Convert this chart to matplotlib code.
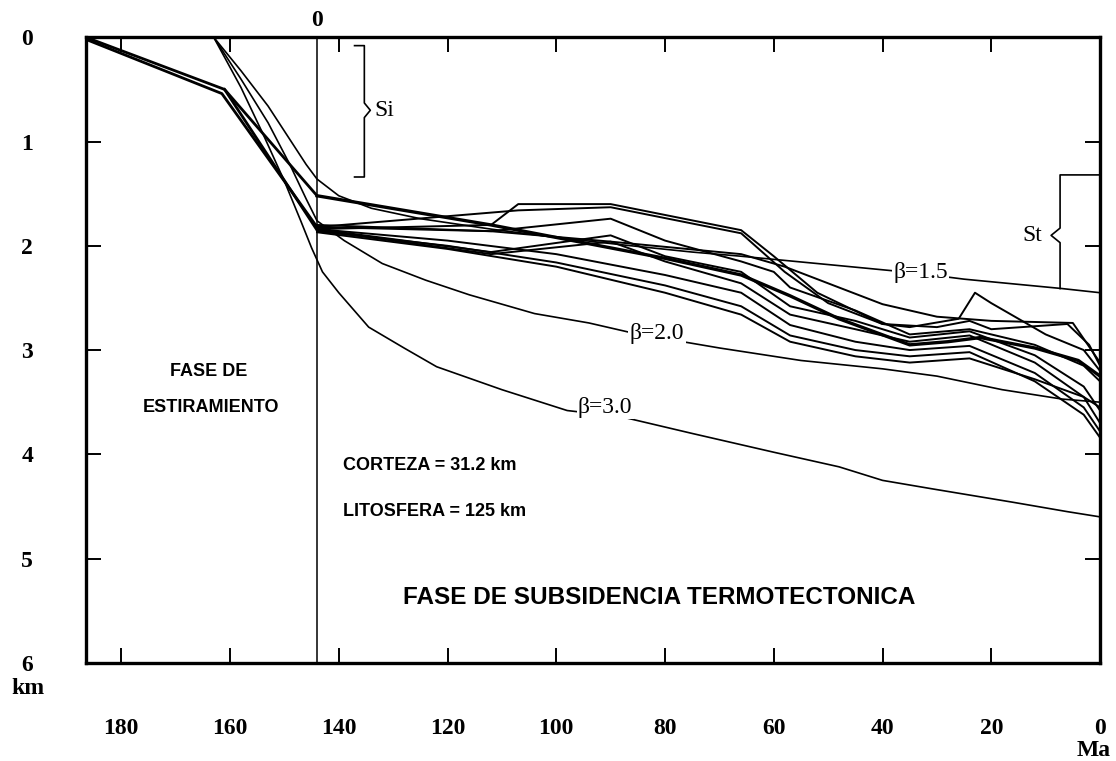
import matplotlib
matplotlib.use("Agg")
import matplotlib.pyplot as plt

# ---- data (Ma, km) ----
# stretching phase (pre-rift) segments
rift_age_a = [186.5, 161.0, 144.0]
rift_dep_a = [0.0, 0.50, 1.85]
rift_age_b = [186.5, 161.5, 144.0]
rift_dep_b = [0.02, 0.54, 1.82]
rift_age_c = [161.0, 144.0]
rift_dep_c = [0.50, 1.52]

# theoretical thermal subsidence curves
beta15_age = [163, 158, 153, 149, 146, 144, 140, 134, 125, 112, 100, 88, 75, 66, 50, 40, 34, 25, 15, 7, 0]
beta15_dep = [0.0, 0.32, 0.66, 0.98, 1.22, 1.36, 1.52, 1.64, 1.74, 1.84, 1.92, 1.99, 2.06, 2.10, 2.18, 2.23, 2.26, 2.32, 2.37, 2.41, 2.45]
beta20_age = [163, 158, 153, 149, 146, 144, 139, 132, 124, 116, 104, 94, 84, 79, 70, 55, 40, 30, 18, 7, 0]
beta20_dep = [0.0, 0.40, 0.82, 1.22, 1.55, 1.76, 1.95, 2.17, 2.33, 2.47, 2.65, 2.74, 2.86, 2.90, 2.98, 3.10, 3.18, 3.25, 3.38, 3.47, 3.50]
beta30_age = [163, 158, 154, 150, 147, 145, 143, 140, 134.5, 128, 122, 110, 98, 88, 75, 60, 48, 40, 31, 16, 6, 0]
beta30_dep = [0.0, 0.48, 0.92, 1.38, 1.76, 2.02, 2.25, 2.45, 2.78, 2.98, 3.16, 3.38, 3.58, 3.64, 3.80, 3.98, 4.12, 4.25, 4.33, 4.46, 4.55, 4.60]

# well curves, thermal subsidence phase
w1_age = [144, 128, 112, 100, 90, 80, 66, 57, 48, 35, 28, 22, 12, 4, 0]
w1_dep = [1.52, 1.66, 1.80, 1.92, 2.02, 2.12, 2.28, 2.48, 2.70, 2.95, 2.92, 2.88, 2.98, 3.10, 3.25]
w2_age = [144, 112, 107, 90, 66, 60, 52, 40, 35, 26, 23, 20, 10, 3, 0]
w2_dep = [1.84, 1.80, 1.60, 1.60, 1.85, 2.10, 2.45, 2.75, 2.78, 2.70, 2.45, 2.55, 2.85, 3.00, 3.20]
w3_age = [144, 107, 90, 66, 58, 50, 40, 30, 24, 20, 6, 2, 0]
w3_dep = [1.82, 1.66, 1.63, 1.88, 2.25, 2.55, 2.75, 2.78, 2.72, 2.80, 2.75, 2.95, 3.15]
w4_age = [144, 112, 90, 80, 66, 60, 57, 45, 35, 24, 12, 3, 0]
w4_dep = [1.82, 1.86, 1.74, 1.95, 2.15, 2.25, 2.40, 2.62, 2.85, 2.80, 2.95, 3.15, 3.30]
w5_age = [144, 112, 90, 80, 66, 57, 45, 35, 24, 12, 3, 0]
w5_dep = [1.84, 2.06, 1.90, 2.10, 2.25, 2.58, 2.72, 2.88, 2.82, 3.05, 3.35, 3.58]
w6_age = [144, 112, 90, 80, 66, 57, 45, 35, 24, 12, 3, 0]
w6_dep = [1.85, 2.08, 1.96, 2.15, 2.36, 2.66, 2.80, 2.92, 2.86, 3.12, 3.45, 3.70]
w7_age = [144, 120, 100, 80, 66, 57, 45, 35, 24, 12, 3, 0]
w7_dep = [1.84, 1.95, 2.08, 2.28, 2.45, 2.76, 2.92, 3.00, 2.96, 3.22, 3.55, 3.78]
w8_age = [144, 120, 100, 80, 66, 57, 45, 35, 24, 12, 3, 0]
w8_dep = [1.86, 2.00, 2.16, 2.38, 2.58, 2.86, 3.00, 3.06, 3.02, 3.30, 3.62, 3.84]
w9_age = [144, 120, 100, 80, 66, 57, 45, 35, 24, 12, 3, 0]
w9_dep = [1.87, 2.03, 2.20, 2.45, 2.66, 2.92, 3.06, 3.12, 3.08, 3.28, 3.45, 3.55]
w10_age = [144, 112, 90, 66, 58, 48, 40, 30, 20, 5, 0]
w10_dep = [1.80, 1.86, 1.96, 2.08, 2.20, 2.40, 2.56, 2.68, 2.72, 2.74, 3.12]

wells_thick = [(w1_age, w1_dep)]
wells = [(w2_age, w2_dep), (w3_age, w3_dep), (w4_age, w4_dep), (w5_age, w5_dep),
         (w6_age, w6_dep), (w7_age, w7_dep), (w8_age, w8_dep), (w9_age, w9_dep),
         (w10_age, w10_dep)]

x_ticks = [180, 160, 140, 120, 100, 80, 60, 40, 20, 0]
y_ticks = [0, 1, 2, 3, 4, 5, 6]
rift_end = 144.0

serif = ["Liberation Serif", "DejaVu Serif"]
sans = ["Liberation Sans", "DejaVu Sans"]

fig = plt.figure(figsize=(11.16, 7.61), dpi=100)
ax = fig.add_axes([0.077, 0.129, 0.9087, 0.822])

for age, dep in [(rift_age_a, rift_dep_a), (rift_age_b, rift_dep_b)]:
    ax.plot(age, dep, color="black", lw=2.0)
ax.plot(rift_age_c, rift_dep_c, color="black", lw=2.0)

for age, dep in [(beta15_age, beta15_dep), (beta20_age, beta20_dep), (beta30_age, beta30_dep)]:
    ax.plot(age, dep, color="black", lw=1.2)

for age, dep in wells_thick:
    ax.plot(age, dep, color="black", lw=2.4)
for age, dep in wells:
    ax.plot(age, dep, color="black", lw=1.4)

ax.axvline(rift_end, color="black", lw=1.1)

ax.set_xlim(186.5, 0)
ax.set_ylim(6, 0)
ax.set_xticks(x_ticks)
ax.set_xticklabels([str(v) for v in x_ticks])
ax.set_yticks(y_ticks)
ax.set_yticklabels([str(v) for v in y_ticks])
ax.tick_params(direction="in", length=11, width=1.4, top=True, right=True)
ax.tick_params(axis="x", pad=40)
ax.tick_params(axis="y", pad=38)
for lab in ax.get_xticklabels() + ax.get_yticklabels():
    lab.set_fontfamily(serif)
    lab.set_fontweight("bold")
    lab.set_fontsize(17)
for sp in ax.spines.values():
    sp.set_linewidth(2.4)

# axis units and top marker
fig.text(28 / 1116, 1 - 688 / 761, "km", family=serif, fontsize=17, fontweight="bold", ha="center", va="center")
fig.text(1094 / 1116, 1 - 750 / 761, "Ma", family=serif, fontsize=17, fontweight="bold", ha="center", va="center")
ax.text(rift_end, -0.06, "0", family=serif, fontsize=17, fontweight="bold", ha="center", va="bottom")

# curve labels
lbl_kw = dict(family=serif, fontsize=17, ha="center", va="center",
              bbox=dict(facecolor="white", edgecolor="none", pad=1))
ax.text(33.0, 2.26, "β=1.5", **lbl_kw)
ax.text(81.5, 2.84, "β=2.0", **lbl_kw)
ax.text(91.0, 3.55, "β=3.0", **lbl_kw)

# phase labels
ax.text(164.0, 3.21, "FASE DE", family=sans, fontsize=13, fontweight="bold", ha="center", va="center")
ax.text(163.5, 3.55, "ESTIRAMIENTO", family=sans, fontsize=13, fontweight="bold", ha="center", va="center")
ax.text(139.2, 4.11, "CORTEZA = 31.2 km", family=sans, fontsize=13, fontweight="bold", ha="left", va="center")
ax.text(139.2, 4.55, "LITOSFERA = 125 km", family=sans, fontsize=13, fontweight="bold", ha="left", va="center")
ax.text(81.0, 5.37, "FASE DE SUBSIDENCIA TERMOTECTONICA", family=sans, fontsize=17.5, fontweight="bold",
        ha="center", va="center")

# Si bracket
si_x, si_top, si_bot, si_mid = 135.3, 0.08, 1.34, 0.70
ax.plot([137.1, si_x, si_x, 134.2, si_x, si_x, 137.1],
        [si_top, si_top, si_mid - 0.07, si_mid, si_mid + 0.07, si_bot, si_bot], color="black", lw=1.2)
ax.text(133.4, si_mid, "Si", family=serif, fontsize=17, ha="left", va="center")

# St bracket
st_x, st_top, st_bot, st_mid = 7.35, 1.32, 2.41, 1.90
ax.plot([0, st_x, st_x, 9.0, st_x, st_x],
        [st_top, st_top, st_mid - 0.07, st_mid, st_mid + 0.07, st_bot], color="black", lw=1.2)
ax.text(10.6, st_mid, "St", family=serif, fontsize=17, ha="right", va="center")

fig.savefig("out.png", dpi=100)
